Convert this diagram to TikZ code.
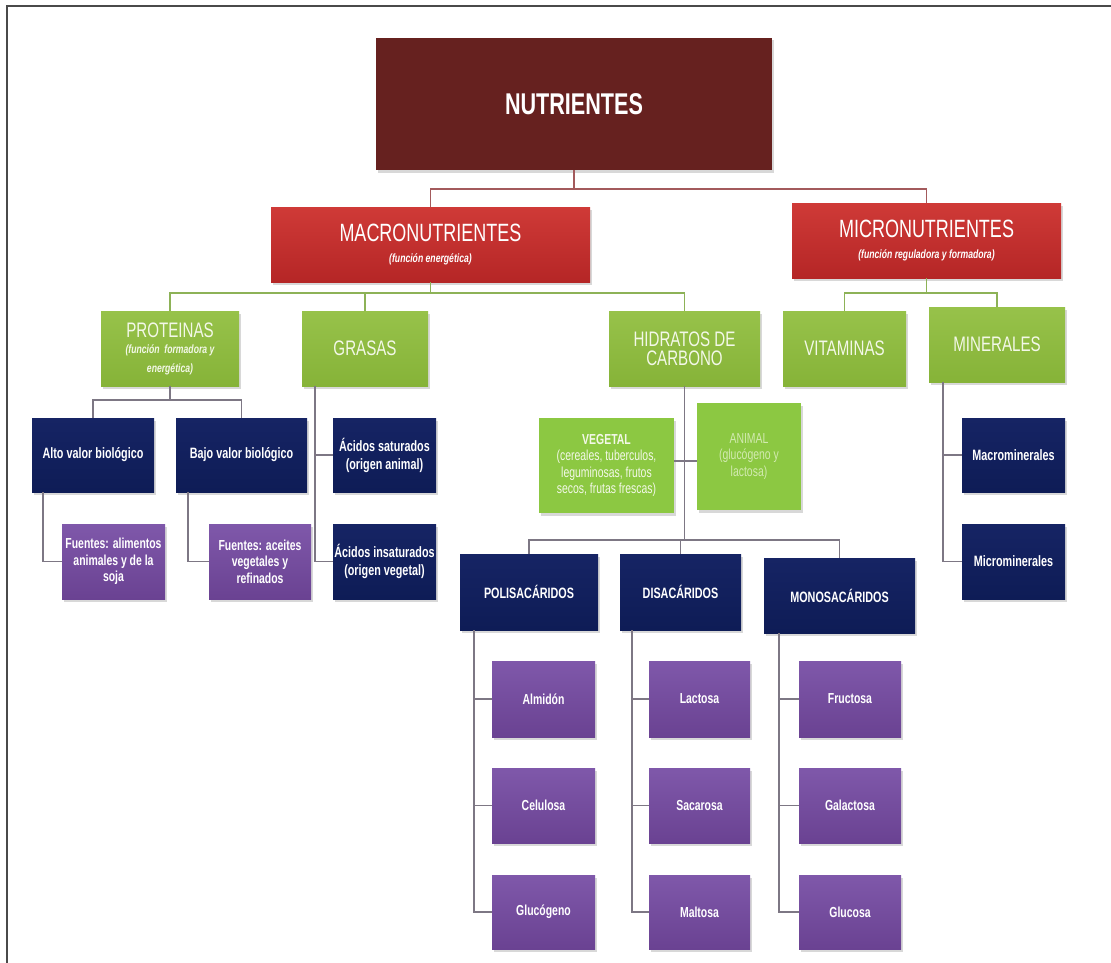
\documentclass[tikz,border=0pt]{standalone}
\usepackage{fontspec}
\setmainfont{Liberation Sans}
\newfontfamily\cf[FakeStretch=0.72]{Liberation Sans}
\usetikzlibrary{shadows}
\newcommand{\subtxt}{\cf\itshape\bfseries\fontsize{12}{14}\selectfont}
\definecolor{nutc}{HTML}{66211F}
\definecolor{redt}{HTML}{CF3A37}
\definecolor{redb}{HTML}{B52626}
\definecolor{grnt}{HTML}{97C24A}
\definecolor{grnb}{HTML}{86B338}
\definecolor{lgrn}{HTML}{8CC842}
\definecolor{navyt}{HTML}{162464}
\definecolor{navyb}{HTML}{0E1C56}
\definecolor{purt}{HTML}{7F58AA}
\definecolor{purb}{HTML}{6A4292}
\definecolor{gtxt}{HTML}{F3F8E8}
\definecolor{atxt}{HTML}{D2EAB0}
\definecolor{c1}{HTML}{A35A5C}
\definecolor{c2}{HTML}{8DB257}
\definecolor{c3}{HTML}{7D7784}
\definecolor{frame}{HTML}{4A4A4A}
\begin{document}
\begin{tikzpicture}[x=1pt,y=-1pt,
  box/.style={inner sep=0pt, align=center, text=white,
    drop shadow={shadow xshift=1.5pt, shadow yshift=-2.5pt, opacity=0.3}},
  rootbox/.style={box, fill=nutc, font=\cf\bfseries\fontsize{30}{34}\selectfont},
  redbox/.style={box, top color=redt, bottom color=redb, font=\cf\fontsize{25}{24}\selectfont},
  grnbox/.style={box, top color=grnt, bottom color=grnb, text=gtxt, font=\cf\fontsize{21}{19}\selectfont},
  lgbox/.style={box, fill=lgrn, text=gtxt, font=\cf\fontsize{14.5}{16.5}\selectfont},
  navybox/.style={box, top color=navyt, bottom color=navyb, font=\cf\bfseries\fontsize{15}{18}\selectfont},
  purbox/.style={box, top color=purt, bottom color=purb, font=\cf\bfseries\fontsize{14.5}{16.5}\selectfont},
  con1/.style={draw=c1, line width=1.6pt},
  con2/.style={draw=c2, line width=1.6pt},
  con3/.style={draw=c3, line width=1.6pt}]
\useasboundingbox (0,0) rectangle (1111,963);
\fill[white] (0,0) rectangle (1111,963);
% frame
\draw[frame, line width=2pt] (7,963) -- (7,6) -- (1111,6);

% level 0/1
\node[rootbox, minimum width=396pt, minimum height=132pt] (nut) at (574,104) {NUTRIENTES};
\node[redbox, minimum width=319pt, minimum height=75pt] (macro) at (430.5,244.5)
  {MACRONUTRIENTES\\[-3pt]\subtxt (función energética)};
\node[redbox, minimum width=269pt, minimum height=75pt] (micro) at (926.5,240.5)
  {MICRONUTRIENTES\\[-3pt]\subtxt (función reguladora y formadora)};

% level 2
\node[grnbox, minimum width=138pt, minimum height=75pt] (prot) at (170,348.5)
  {PROTEINAS\\[-3pt]\subtxt (función\ \ formadora y\\\subtxt energética)};
\node[grnbox, minimum width=126pt, minimum height=75pt] (gras) at (365,348.5) {GRASAS};
\node[grnbox, minimum width=151pt, minimum height=75pt] (hidr) at (684.5,348.5) {HIDRATOS DE\\CARBONO};
\node[grnbox, minimum width=123pt, minimum height=75pt] (vit) at (844.5,348.5) {VITAMINAS};
\node[grnbox, minimum width=136pt, minimum height=75pt] (min) at (997,344.5) {MINERALES};

% proteinas / grasas children
\node[navybox, minimum width=122pt, minimum height=74pt] (alto) at (93,455) {Alto valor biológico};
\node[navybox, minimum width=131pt, minimum height=74pt] (bajo) at (241.5,455) {Bajo valor biológico};
\node[purbox, minimum width=103pt, minimum height=75pt] (fue1) at (113.5,561.5) {Fuentes: alimentos\\animales y de la\\soja};
\node[purbox, minimum width=102pt, minimum height=75pt] (fue2) at (260,561.5) {Fuentes: aceites\\vegetales y\\refinados};
\node[navybox, minimum width=103pt, minimum height=74pt] (sat) at (384.5,455) {Ácidos saturados\\(origen animal)};
\node[navybox, minimum width=103pt, minimum height=75pt] (insat) at (384.5,561.5) {Ácidos insaturados\\(origen vegetal)};

% hidratos children
\node[lgbox, minimum width=135pt, minimum height=95pt] (veg) at (606.5,465.5)
  {\bfseries VEGETAL\\(cereales, tuberculos,\\leguminosas, frutos\\secos, frutas frescas)};
\node[lgbox, text=atxt, minimum width=104pt, minimum height=107pt] (ani) at (749,456.5)
  {ANIMAL\\(glucógeno y\\lactosa)};
\node[navybox, minimum width=138pt, minimum height=76pt] (poli) at (529,592) {POLISACÁRIDOS};
\node[navybox, minimum width=121pt, minimum height=76pt] (disa) at (680.5,592) {DISACÁRIDOS};
\node[navybox, minimum width=151pt, minimum height=75pt] (mono) at (839.5,595.5) {MONOSACÁRIDOS};

\node[purbox, minimum width=103pt, minimum height=76pt] (alm) at (543.5,699) {Almidón};
\node[purbox, minimum width=103pt, minimum height=75pt] (cel) at (543.5,805.5) {Celulosa};
\node[purbox, minimum width=103pt, minimum height=74pt] (glu) at (543.5,912) {Glucógeno};
\node[purbox, minimum width=101pt, minimum height=76pt] (lac) at (699.5,699) {Lactosa};
\node[purbox, minimum width=101pt, minimum height=75pt] (sac) at (699.5,805.5) {Sacarosa};
\node[purbox, minimum width=101pt, minimum height=74pt] (mal) at (699.5,912) {Maltosa};
\node[purbox, minimum width=102pt, minimum height=76pt] (fru) at (850,699) {Fructosa};
\node[purbox, minimum width=102pt, minimum height=75pt] (gal) at (850,805.5) {Galactosa};
\node[purbox, minimum width=102pt, minimum height=74pt] (glc) at (850,912) {Glucosa};

% minerales children
\node[navybox, minimum width=103pt, minimum height=74pt] (macm) at (1013.5,455) {Macrominerales};
\node[navybox, minimum width=103pt, minimum height=75pt] (micm) at (1013.5,561.5) {Microminerales};

% junctions
\coordinate (j0) at (574,189);
\coordinate (j1) at (430.5,293);
\coordinate (j2) at (926.5,293);
\coordinate (j3) at (170,400);
\coordinate (hv) at (684.5,461);
\coordinate (j4) at (684.5,540);

% connectors
\draw[con1] (nut.south) -- (j0) -| (macro.north);
\draw[con1] (j0) -| (micro.north);

\draw[con2] (macro.south) -- (j1) -| (prot.north);
\draw[con2] (j1) -| (gras.north);
\draw[con2] (j1) -| (hidr.north);
\draw[con2] (micro.south) -- (j2) -| (vit.north);
\draw[con2] (j2) -| (min.north);

\draw[con3] (prot.south) -- (j3) -| (alto.north);
\draw[con3] (j3) -| (bajo.north);
\draw[con3] ([xshift=11pt]alto.south west) |- (fue1.west);
\draw[con3] ([xshift=12pt]bajo.south west) |- (fue2.west);
\draw[con3] ([xshift=13pt]gras.south west) |- (sat.west);
\draw[con3] ([xshift=13pt]gras.south west) |- (insat.west);

\draw[con3] (hidr.south) -- (j4) -| (poli.north);
\draw[con3] (j4) -| (disa.north);
\draw[con3] (j4) -| (mono.north);
\draw[con3] (veg.east |- hv) -- (ani.west |- hv);

\draw[con3] ([xshift=14pt]poli.south west) |- (alm.west);
\draw[con3] ([xshift=14pt]poli.south west) |- (cel.west);
\draw[con3] ([xshift=14pt]poli.south west) |- (glu.west);
\draw[con3] ([xshift=12pt]disa.south west) |- (lac.west);
\draw[con3] ([xshift=12pt]disa.south west) |- (sac.west);
\draw[con3] ([xshift=12pt]disa.south west) |- (mal.west);
\draw[con3] ([xshift=15pt]mono.south west) |- (fru.west);
\draw[con3] ([xshift=15pt]mono.south west) |- (gal.west);
\draw[con3] ([xshift=15pt]mono.south west) |- (glc.west);

\draw[con3] ([xshift=14pt]min.south west) |- (macm.west);
\draw[con3] ([xshift=14pt]min.south west) |- (micm.west);
\end{tikzpicture}
\end{document}
